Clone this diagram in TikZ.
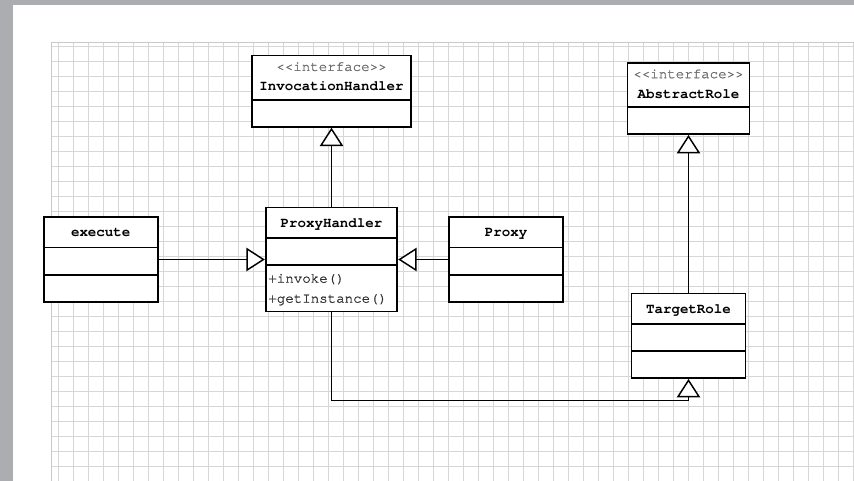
\documentclass[tikz,border=0pt]{standalone}
\usepackage{fontspec}
\setmonofont{texgyrecursor}[Extension=.otf, UprightFont=*-regular, BoldFont=*-bold, UprightFeatures={FakeBold=1.2}]
\definecolor{pagegray}{RGB}{171, 173, 177}
\definecolor{gridgray}{RGB}{214, 214, 214}
\definecolor{edgegray}{RGB}{200, 200, 200}
\definecolor{stereogray}{RGB}{110, 110, 110}
\definecolor{opgray}{RGB}{50, 50, 50}
\usetikzlibrary{arrows.meta, positioning, shapes.multipart}
\newcommand{\onestrut}{\rule[-7.5pt]{0pt}{21.5pt}}
\newcommand{\headstrut}{\rule{0pt}{10.8pt}}
\newcommand{\firststrut}{\rule{0pt}{12.6pt}}
\newcommand{\laststrut}{\rule[-6pt]{0pt}{6pt}}
\newcommand{\blankrow}{\rule{0pt}{19pt}}
\newcommand{\stereo}[1]{{\color{stereogray}<<#1>>}}
\newcommand{\opline}[1]{\makebox[\hsize][l]{#1}}
\tikzset{
	umlclass/.style={rectangle split, rectangle split parts=3, draw=black, line width=1.3pt, fill=white, inner xsep=2pt, inner ysep=0pt, align=center, text width=81.5pt, font=\ttfamily\fontsize{10.6}{15}\selectfont},
	gridline/.style={draw=gridgray, line width=0.7pt},
	inherit/.style={-{Triangle[open, fill=white, length=13.8pt, width=17.5pt, line width=1.1pt]}, line width=0.8pt, draw=black},
}

\begin{document}
\begin{tikzpicture}[x=0.75pt, y=-0.75pt]
		\useasboundingbox (0,0) rectangle (854,481);
		% page and sheet
		\fill[white] (0,0) rectangle (854,481);
		\fill[pagegray] (0,0) rectangle (854,4.7);
		\fill[pagegray] (0,0) rectangle (13,481);
		\foreach \gx in {0,...,53}
			\draw[gridline] (58.3+15*\gx,42.3) -- (58.3+15*\gx,481);
		\foreach \gy in {0,...,29}
			\draw[gridline] (51.7,46+15*\gy) -- (854,46+15*\gy);
		\draw[gridline, draw=edgegray] (51.7,481) -- (51.7,42.3) -- (854,42.3);
		% classes
		\node[umlclass, text width=94.7pt] (ProxyHandler) at (331.5,259.5) {\bfseries\onestrut ProxyHandler\nodepart{two}\blankrow\nodepart{three}\color{opgray}\firststrut\opline{+invoke()}\\\opline{+getInstance()}\laststrut};
		\node[umlclass, rectangle split parts=2, text width=114.8pt, above=59.2pt of ProxyHandler] (InvocationHandler) {\headstrut\stereo{interface}\\\bfseries InvocationHandler\laststrut\nodepart{two}\blankrow};
		\node[umlclass, left=79.7pt of ProxyHandler] (execute) {\bfseries\onestrut execute\nodepart{two}\blankrow\nodepart{three}\blankrow};
		\node[umlclass, right=37.5pt of ProxyHandler] (Proxy) {\bfseries\onestrut Proxy\nodepart{two}\blankrow\nodepart{three}\blankrow};
		\node[umlclass, rectangle split parts=2, text width=87.5pt] (AbstractRole) at (688.5,98.5) {\headstrut\stereo{interface}\\\bfseries AbstractRole\laststrut\nodepart{two}\blankrow};
		\node[umlclass, below=118.3pt of AbstractRole] (TargetRole) {\bfseries\onestrut TargetRole\nodepart{two}\blankrow\nodepart{three}\blankrow};
		\coordinate[below=16pt of TargetRole.south] (bend);
		% generalizations
		\draw[inherit] (ProxyHandler) -- (InvocationHandler);
		\draw[inherit] (execute) -- (ProxyHandler);
		\draw[inherit] (Proxy) -- (ProxyHandler);
		\draw[inherit] (TargetRole) -- (AbstractRole);
		\draw[inherit] (ProxyHandler.south) |- (bend) -- (TargetRole.south);
	\end{tikzpicture}
\end{document}
